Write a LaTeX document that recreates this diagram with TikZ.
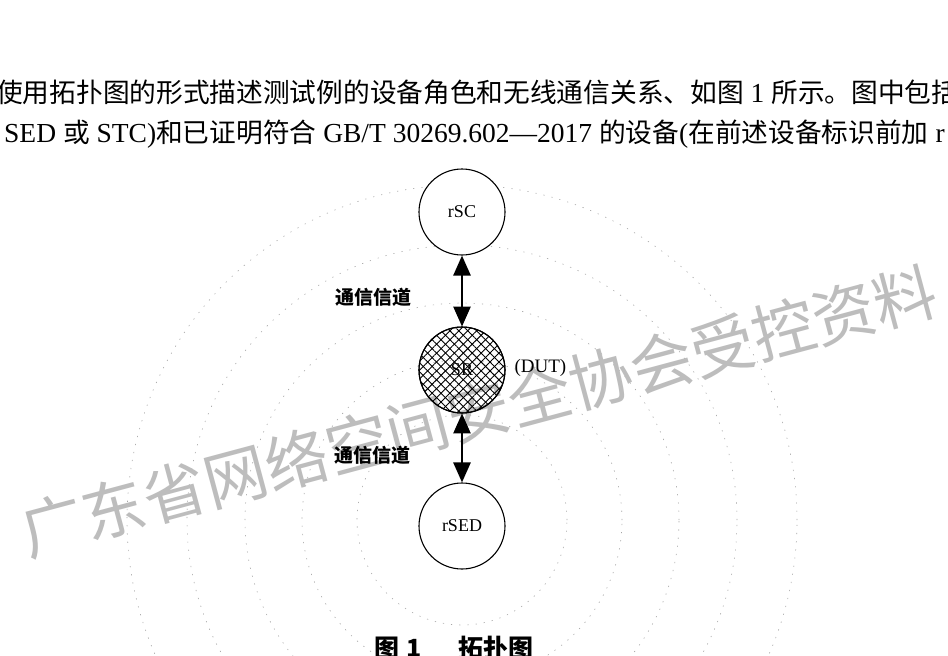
\documentclass[tikz,border=0pt]{standalone}
\usepackage{fontspec}
\setmainfont{Liberation Serif}
\newfontfamily\cj{Noto Sans CJK SC}
\newfontfamily\cjt[Scale=0.971]{Noto Sans CJK SC}
\usetikzlibrary{arrows.meta,patterns.meta}
\definecolor{wm}{gray}{0.74}
\begin{document}
\begin{tikzpicture}[x=1pt,y=-1pt,
  dev/.style={circle, draw, line width=1.1pt, minimum size=86pt, inner sep=0pt, font=\fontsize{18}{21}\selectfont},
  link/.style={{Triangle[length=20pt,width=17pt]}-{Triangle[length=20pt,width=17pt]}, line width=2.6pt},
  chan/.style={font=\cj\bfseries\fontsize{19}{22}\selectfont, inner sep=0pt},
  body/.style={anchor=west, inner sep=0pt, font=\fontsize{27.5}{31}\selectfont},
  ring/.style={draw=black!35, line width=0.6pt, dash pattern=on 1.2pt off 7pt},
  wmark/.style={text=wm, font=\cj\fontsize{63}{63}\selectfont, rotate=15, inner sep=0pt},
  hatchA/.style={pattern={Lines[angle=45,distance=6.3pt,line width=0.9pt]}},
  hatchB/.style={pattern={Lines[angle=-45,distance=6.3pt,line width=0.9pt]}}
]
\useasboundingbox (0,0) rectangle (948,656);
\fill[white] (0,0) rectangle (948,656);

% faint range rings
\coordinate (rc) at (462,520);
\foreach \r in {105,160,217,275,335}
  \draw[ring] (rc) circle (\r pt);

% watermark
\node[wmark] (wmk) at (479,411) {广东省网络空间安全协会受控资料};

% body text lines
\node[body] (l1) at (-4,92) {{\cjt 使用拓扑图的形式描述测试例的设备角色和无线通信关系、如图} 1 {\cjt 所示。图中包括}};
\node[body] (l2) at (4,134) {SED {\cjt 或} STC){\cjt 和已证明符合} GB/T 30269.602—2017 {\cjt 的设备}({\cjt 在前述设备标识前加} r};

% devices
\node[dev, fill=white] (rSC) at (462,212) {rSC};
\node[dev, fill=white, hatchA] (SR) at (462,370) {};
\path[hatchB] (SR.center) circle (43pt);
\draw[line width=1.1pt] (SR.center) circle (43pt);
\node[font=\fontsize{18}{21}\selectfont] (SRt) at (SR.center) {SR};
\node[font=\fontsize{19}{22}\selectfont, anchor=west] (dut) at (511,368) {(DUT)};
\node[dev, fill=white] (rSED) at (462,526) {rSED};

% links
\draw[link] (rSC.south) -- (SR.north);
\draw[link] (SR.south) -- (rSED.north);
\node[chan] (c1) at (373,297) {通信信道};
\node[chan] (c2) at (372,455) {通信信道};

% caption
\node[font=\cj\bfseries\fontsize{25}{28}\selectfont, inner sep=0pt] (cap) at (454,648) {图\hspace{7pt}1\hspace{36pt}拓扑图};
\end{tikzpicture}
\end{document}
